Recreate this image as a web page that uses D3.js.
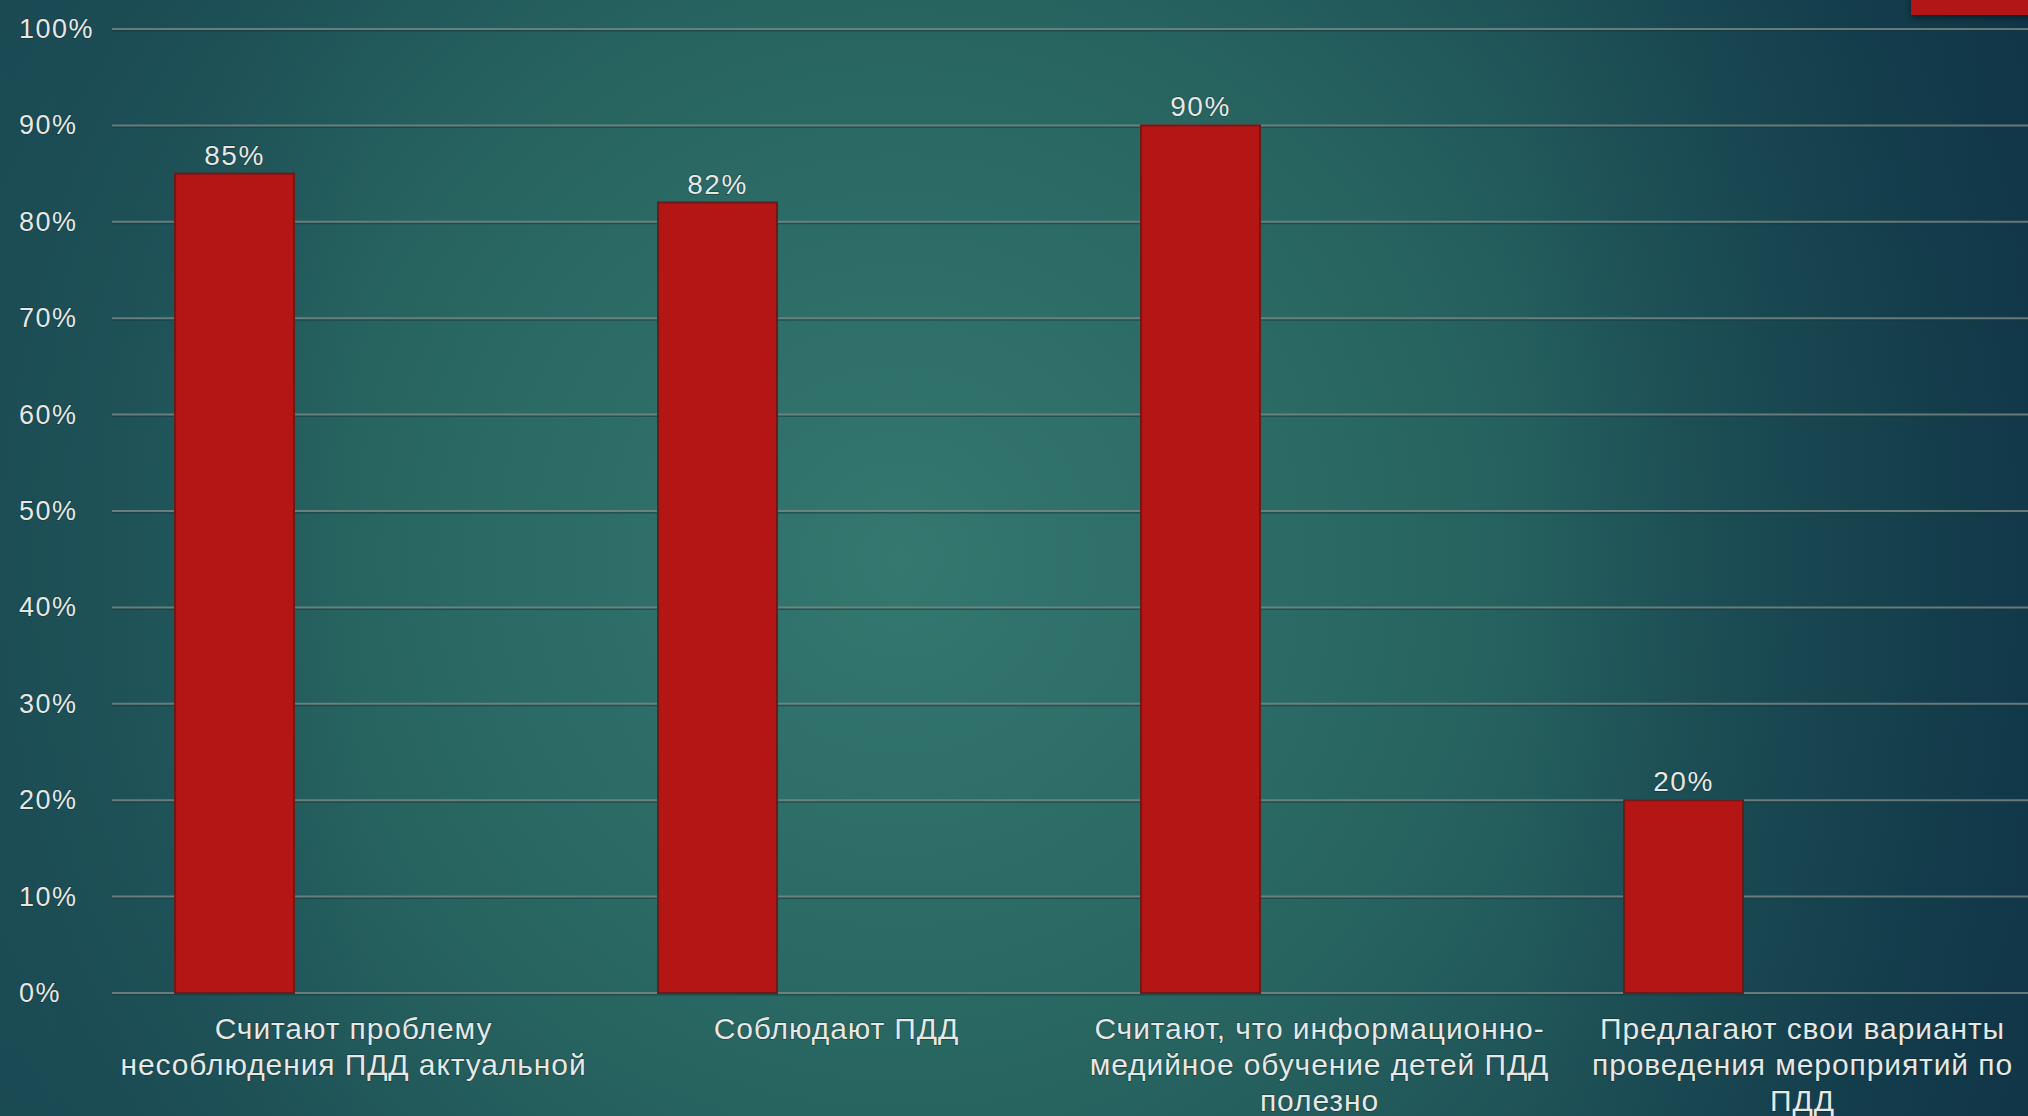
<!DOCTYPE html>
<html>
<head>
<meta charset="utf-8">
<script src="https://cdn.jsdelivr.net/npm/d3@7"></script>
<style>
  html, body { margin: 0; padding: 0; overflow: hidden; background: #1d5155; }
  svg text { font-family: "Liberation Sans", Arial, sans-serif; fill: #e6e8e6; paint-order: stroke; stroke: rgba(10, 30, 30, 0.45); stroke-width: 1.4px; }
</style>
</head>
<body>
<svg id="chart"></svg>
<script>
// chart data
const categories = [
  "Считают проблему несоблюдения ПДД актуальной",
  "Соблюдают ПДД",
  "Считают, что информационно-медийное обучение детей ПДД полезно",
  "Предлагают свои варианты проведения мероприятий по ПДД"
];
// how each category label breaks into lines
const categoryLines = [
  ["Считают проблему", "несоблюдения ПДД актуальной"],
  ["Соблюдают ПДД"],
  ["Считают, что информационно-", "медийное обучение детей ПДД", "полезно"],
  ["Предлагают свои варианты", "проведения мероприятий по", "ПДД"]
];
const values = [85, 82, 90, 20];
const yTicks = [0, 10, 20, 30, 40, 50, 60, 70, 80, 90, 100];
// the slide chart kept 3 series slots per category, only the first is filled
const seriesSlots = ["Ряд 1", "Ряд 2", "Ряд 3"];

const width = 2028;
const height = 1116;
const plot = { left: 112, right: 2044, top: 29, bottom: 993 };

const svg = d3.select("#chart").attr("width", width).attr("height", height);

// background gradient of the slide
const defs = svg.append("defs");
const bg = defs.append("radialGradient")
  .attr("id", "bg")
  .attr("gradientUnits", "userSpaceOnUse")
  .attr("cx", 900).attr("cy", 560).attr("r", 1250);
bg.append("stop").attr("offset", "0%").attr("stop-color", "#347870");
bg.append("stop").attr("offset", "45%").attr("stop-color", "#276460");
bg.append("stop").attr("offset", "100%").attr("stop-color", "#12384a");

const side = defs.append("linearGradient").attr("id", "side").attr("x1", 0).attr("x2", 1).attr("y1", 0).attr("y2", 0);
side.append("stop").attr("offset", "0%").attr("stop-color", "#1c4d55").attr("stop-opacity", 0.6);
side.append("stop").attr("offset", "18%").attr("stop-color", "#1c4d55").attr("stop-opacity", 0);
side.append("stop").attr("offset", "75%").attr("stop-color", "#123a4a").attr("stop-opacity", 0);
side.append("stop").attr("offset", "100%").attr("stop-color", "#0f3446").attr("stop-opacity", 0.6);

const shadow = defs.append("filter").attr("id", "shadow").attr("x", "-20%").attr("y", "-50%").attr("width", "140%").attr("height", "250%");
shadow.append("feDropShadow").attr("dx", 0).attr("dy", 3).attr("stdDeviation", 3).attr("flood-color", "#000").attr("flood-opacity", 0.45);

svg.append("rect").attr("width", width).attr("height", height).attr("fill", "url(#bg)");
svg.append("rect").attr("width", width).attr("height", height).attr("fill", "url(#side)");

// red accent block in the corner
svg.append("rect")
  .attr("x", 1911).attr("y", -10).attr("width", 130).attr("height", 25)
  .attr("fill", "#b21616")
  .attr("filter", "url(#shadow)");

// scales
const x = d3.scaleBand()
  .domain(categories)
  .range([plot.left, plot.right])
  .paddingInner(0.261)
  .paddingOuter(0.1305);

const xSlot = d3.scaleBand()
  .domain(seriesSlots)
  .range([0, x.bandwidth()]);

const y = d3.scaleLinear()
  .domain([0, 100])
  .range([plot.bottom, plot.top]);

// gridlines
const grid = svg.append("g").attr("class", "grid");
grid.selectAll("line.shade")
  .data(yTicks)
  .join("line")
  .attr("class", "shade")
  .attr("x1", plot.left).attr("x2", width)
  .attr("y1", (d) => y(d) + 1.5).attr("y2", (d) => y(d) + 1.5)
  .attr("stroke", "#17393c")
  .attr("stroke-opacity", 0.55)
  .attr("stroke-width", 2);
grid.selectAll("line.main")
  .data(yTicks)
  .join("line")
  .attr("class", "main")
  .attr("x1", plot.left).attr("x2", width)
  .attr("y1", (d) => y(d)).attr("y2", (d) => y(d))
  .attr("stroke", "#7a8a86")
  .attr("stroke-opacity", 0.8)
  .attr("stroke-width", 2);

// y axis labels (left aligned like the slide)
svg.append("g")
  .selectAll("text")
  .data(yTicks)
  .join("text")
  .attr("x", 19)
  .attr("y", (d) => y(d) + 9)
  .attr("font-size", 27)
  .attr("letter-spacing", 1.5)
  .text((d) => d + "%");

// bars
const bars = svg.append("g").attr("class", "bars");
bars.selectAll("rect")
  .data(values)
  .join("rect")
  .attr("x", (d, i) => x(categories[i]) + xSlot(seriesSlots[0]))
  .attr("y", (d) => y(d))
  .attr("width", xSlot.bandwidth())
  .attr("height", (d) => y(0) - y(d))
  .attr("fill", "#b41515")
  .attr("stroke", "#6e1a18")
  .attr("stroke-width", 2);

// value labels
svg.append("g")
  .selectAll("text")
  .data(values)
  .join("text")
  .attr("x", (d, i) => x(categories[i]) + xSlot(seriesSlots[0]) + xSlot.bandwidth() / 2)
  .attr("y", (d) => y(d) - 9)
  .attr("text-anchor", "middle")
  .attr("font-size", 28)
  .attr("letter-spacing", 1.5)
  .text((d) => d + "%");

// category labels
const catLabel = svg.append("g")
  .selectAll("text")
  .data(categories)
  .join("text")
  .attr("text-anchor", "middle")
  .attr("font-size", 30)
  .attr("letter-spacing", 0.9)
  .attr("y", 1039);

catLabel.selectAll("tspan")
  .data((d, i) => categoryLines[i].map((line) => ({ line, cx: x(d) + x.bandwidth() / 2 })))
  .join("tspan")
  .attr("x", (d) => d.cx)
  .attr("dy", (d, j) => (j === 0 ? 0 : 36))
  .text((d) => d.line);
</script>
</body>
</html>
